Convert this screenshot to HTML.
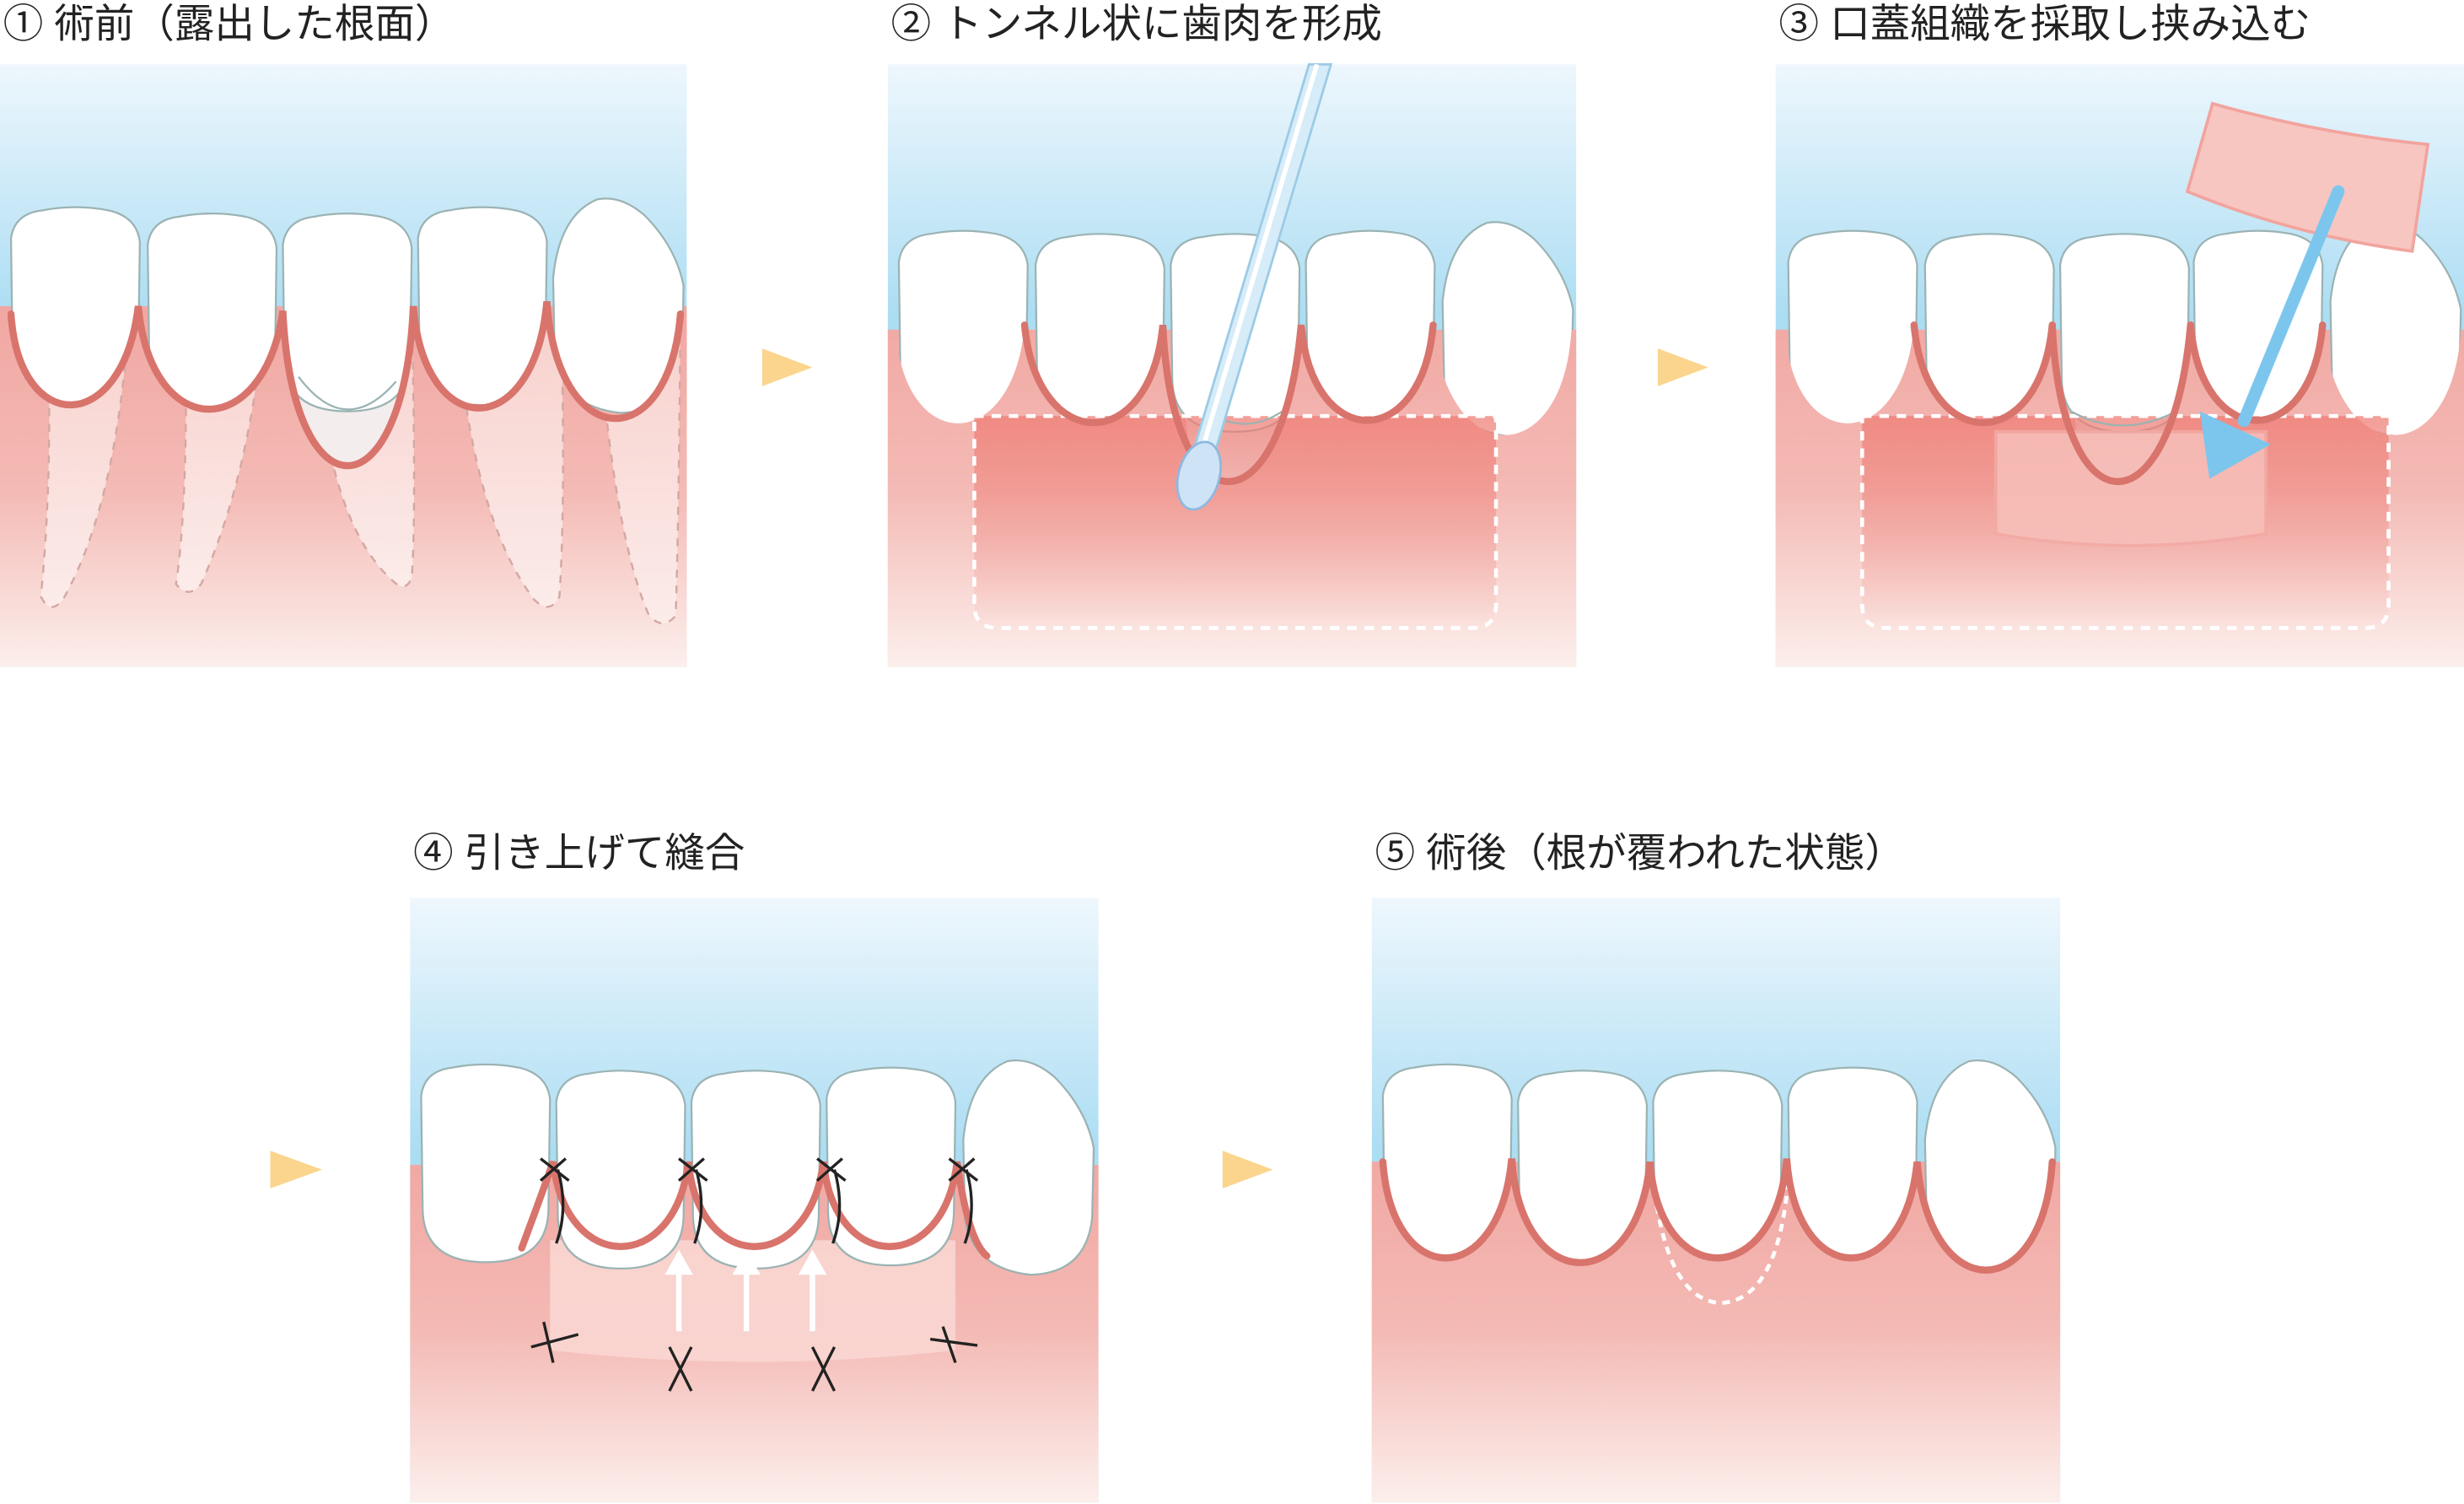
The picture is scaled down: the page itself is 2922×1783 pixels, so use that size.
<!DOCTYPE html>
<html><head><meta charset="utf-8"><style>
html,body{margin:0;padding:0;background:#fff;}
svg{display:block;}
text{font-family:"Liberation Sans","Noto Sans CJK JP",sans-serif;font-size:25.5px;fill:#222;}
</style></head><body>
<svg width="2922" height="1783" viewBox="0 0 1568 958" preserveAspectRatio="none" xmlns="http://www.w3.org/2000/svg">
<defs>
<linearGradient id="sky" x1="0" y1="0" x2="0" y2="1"><stop offset="0" stop-color="#eef7fd"/><stop offset="0.42" stop-color="#abddf3"/><stop offset="1" stop-color="#a8dcf3"/></linearGradient>
<linearGradient id="gum2" gradientUnits="userSpaceOnUse" x1="0" y1="200" x2="0" y2="425"><stop offset="0" stop-color="#f1a8a3"/><stop offset="0.5" stop-color="#f4bab5"/><stop offset="1" stop-color="#fcefec"/></linearGradient>
<linearGradient id="gum5" gradientUnits="userSpaceOnUse" x1="0" y1="740" x2="0" y2="957"><stop offset="0" stop-color="#f1a8a3"/><stop offset="0.5" stop-color="#f4bab5"/><stop offset="1" stop-color="#fcefec"/></linearGradient>
<linearGradient id="deep" x1="0" y1="0" x2="0" y2="1"><stop offset="0" stop-color="#ee7d75" stop-opacity="0.75"/><stop offset="1" stop-color="#ee7d75" stop-opacity="0"/></linearGradient>
<linearGradient id="root" x1="0" y1="0" x2="0" y2="1"><stop offset="0" stop-color="#f8d0cc"/><stop offset="1" stop-color="#fbecea"/></linearGradient>
<path id="tooth" d="M2,22 Q4,6 22,4 Q43,0 64,4 Q82,8 84,24 L83,95 Q82,128 43,128 Q4,128 3,95 Z" fill="#fff" stroke="#9bb3b3" stroke-width="1.2"/>
<path id="canine" d="M2,50 Q6,10 30,0 Q45,-3 60,10 Q80,30 85,55 L84,100 Q80,135 45,136 Q8,132 3,100 Z" fill="#fff" stroke="#9bb3b3" stroke-width="1.2"/>
<clipPath id="c1"><path d="M0,200 L7,200 C12,278 78,278 88,195 C96,282 168,282 180,198 C186,330 257,330 263,195 C270,282 340,282 348,192 C355,290 426,290 433,200 L437,200 L437,425 L0,425 Z"/></clipPath>
</defs>

<text x="2" y="24">① 術前（露出した根面）</text>
<text x="567" y="24">② トンネル状に歯肉を形成</text>
<text x="1132" y="24">③ 口蓋組織を採取し挟み込む</text>
<text x="263" y="552">④ 引き上げて縫合</text>
<text x="875" y="552">⑤ 術後（根が覆われた状態）</text>

<polygon points="485,222 517,234 485,246" fill="#fbd58d"/>
<polygon points="1055,222 1087,234 1055,246" fill="#fbd58d"/>
<polygon points="172,733 205,745 172,757" fill="#fbd58d"/>
<polygon points="778,733 810,745 778,757" fill="#fbd58d"/>

<!-- PANEL 1 -->
<rect x="0" y="41" width="437" height="384" fill="url(#sky)"/>
<rect x="0" y="195" width="437" height="230" fill="url(#gum2)"/>
<use href="#tooth" x="5" y="130"/>
<use href="#tooth" x="92" y="134"/>
<path d="M183,220 L190,300 L255,300 L260,220 Z" fill="#f3eded"/>
<use href="#tooth" x="178" y="134"/>
<use href="#tooth" x="264" y="130"/>
<use href="#canine" x="350" y="127"/>
<path d="M0,200 L7,200 C12,278 78,278 88,195 C96,282 168,282 180,198 C186,330 257,330 263,195 C270,282 340,282 348,192 C355,290 426,290 433,200 L437,200 L437,425 L0,425 Z" fill="url(#gum2)"/>
<g clip-path="url(#c1)" fill="url(#root)" stroke="#d4a8a2" stroke-width="1.3" stroke-dasharray="5,5">
<path d="M30,200 Q34,300 26,380 Q32,392 40,382 Q75,320 82,200 Z"/>
<path d="M118,200 Q120,320 112,372 Q120,382 128,372 Q160,300 168,200 Z"/>
<path d="M200,200 Q205,330 250,370 Q258,378 262,368 Q265,330 262,200 Z"/>
<path d="M290,200 Q300,330 340,382 Q350,392 356,380 Q360,320 357,200 Z"/>
<path d="M380,200 Q390,340 413,392 Q422,402 430,392 Q432,330 433,200 Z"/>
</g>
<path d="M190,240 Q220,280 252,243" fill="none" stroke="#9bb3b3" stroke-width="1.2"/>
<path d="M7,200 C12,278 78,278 88,195 C96,282 168,282 180,198 C186,330 257,330 263,195 C270,282 340,282 348,192 C355,290 426,290 433,200" fill="none" stroke="#d8746c" stroke-width="4.5" stroke-linecap="round"/>

<!-- PANEL 2 -->
<rect x="565" y="41" width="438" height="384" fill="url(#sky)"/>
<rect x="565" y="210" width="438" height="215" fill="url(#gum2)"/>
<use href="#tooth" x="570" y="145"/>
<use href="#tooth" x="657" y="147"/>
<path d="M750,230 L760,312 L815,312 L825,230 Z" fill="#f3eded"/>
<use href="#tooth" x="743" y="147"/>
<use href="#tooth" x="829" y="145"/>
<use href="#canine" x="916" y="142"/>
<path d="M565,210 L570,210 C575,290 645,290 652,207 C660,290 732,290 740,207 C746,340 816,340 828,207 C835,288 905,288 912,207 C920,300 995,300 1000,210 L1003,210 L1003,425 L565,425 Z" fill="url(#gum2)"/>
<path d="M620,265 L952,265 L952,385 Q952,400 937,400 L635,400 Q620,400 620,385 Z" fill="url(#deep)" stroke="#fff" stroke-width="2.5" stroke-dasharray="6,5"/>
<path d="M768,262 Q792,278 816,262" fill="none" stroke="#9bb3b3" stroke-width="1.2"/>
<path d="M652,207 C660,290 732,290 740,207 C746,340 816,340 828,207 C835,288 905,288 912,207" fill="none" stroke="#d8746c" stroke-width="4.5" stroke-linecap="round"/>
<path d="M833,41 L847,41 L772,292 L758,292 Z" fill="#d6ecf8" stroke="#9ccbe6" stroke-width="1.5"/>
<line x1="838" y1="41" x2="764" y2="290" stroke="#fff" stroke-width="3"/>
<ellipse cx="763" cy="303" rx="13" ry="22" transform="rotate(15 763 303)" fill="#cfe3f6" stroke="#8fb8e0" stroke-width="1.5"/>

<!-- PANEL 3 -->
<rect x="1130" y="41" width="438" height="384" fill="url(#sky)"/>
<rect x="1130" y="210" width="438" height="215" fill="url(#gum2)"/>
<use href="#tooth" x="1136" y="145"/>
<use href="#tooth" x="1223" y="147"/>
<path d="M1316,230 L1326,312 L1381,312 L1391,230 Z" fill="#f3eded"/>
<use href="#tooth" x="1309" y="147"/>
<use href="#tooth" x="1394" y="145"/>
<use href="#canine" x="1481" y="142"/>
<path d="M1130,210 L1136,210 C1141,290 1211,290 1218,207 C1226,290 1298,290 1306,207 C1312,340 1382,340 1394,207 C1401,288 1471,288 1478,207 C1486,300 1561,300 1566,210 L1568,210 L1568,425 L1130,425 Z" fill="url(#gum2)"/>
<path d="M1185,265 L1520,265 L1520,385 Q1520,400 1505,400 L1200,400 Q1185,400 1185,385 Z" fill="url(#deep)" stroke="#fff" stroke-width="2.5" stroke-dasharray="6,5"/>
<path d="M1218,207 C1226,290 1298,290 1306,207 M1394,207 C1401,288 1471,288 1478,207" fill="none" stroke="#d8746c" stroke-width="4.5" stroke-linecap="round"/>
<path d="M1318,262 Q1350,280 1385,262" fill="none" stroke="#9bb3b3" stroke-width="1.2"/>
<path d="M1270,275 L1442,275 L1442,340 Q1355,355 1270,340 Z" fill="#f7c0ba" opacity="0.85" stroke="#f3aaa4" stroke-width="2"/>
<path d="M1306,207 C1312,340 1382,340 1394,207" fill="none" stroke="#d8746c" stroke-width="4.5" stroke-linecap="round"/>
<path d="M1408,66 Q1475,85 1545,92 L1535,160 Q1460,150 1392,122 Z" fill="#f8c6c1" stroke="#f2a49e" stroke-width="2"/>
<line x1="1488" y1="122" x2="1428" y2="268" stroke="#7cc6ee" stroke-width="8" stroke-linecap="round"/>
<polygon points="1400,262 1445,283 1406,305" fill="#7cc6ee"/>

<!-- PANEL 4 -->
<rect x="261" y="572" width="438" height="385" fill="url(#sky)"/>
<rect x="261" y="742" width="438" height="215" fill="url(#gum5)"/>
<path d="M350,790 L608,790 L608,860 Q480,875 350,860 Z" fill="#f9d6d2" opacity="0.9"/>
<use href="#tooth" x="266" y="676"/>
<use href="#tooth" x="352" y="680"/>
<use href="#tooth" x="438" y="680"/>
<use href="#tooth" x="524" y="678"/>
<use href="#canine" x="611" y="676"/>
<path d="M332,795 Q345,760 352,740 C360,812 430,812 438,740 C445,812 515,812 524,740 C531,812 601,812 609,740 Q616,790 628,800" fill="none" stroke="#d8746c" stroke-width="4.5" stroke-linecap="round"/>
<g stroke="#222" stroke-width="1.8" fill="none">
<path d="M344,738 L362,752 M344,752 L360,738 M355,745 Q362,770 354,792"/>
<path d="M432,738 L450,752 M432,752 L448,738 M443,745 Q450,770 442,792"/>
<path d="M520,738 L538,752 M520,752 L536,738 M531,745 Q538,770 530,792"/>
<path d="M604,738 L622,752 M604,752 L620,738 M615,745 Q622,770 614,792"/>
<path d="M338,858 L368,850 M346,842 L352,868"/>
<path d="M592,853 L622,857 M600,845 L608,868"/>
<path d="M426,858 L440,886 M440,858 L426,886"/>
<path d="M517,858 L531,886 M531,858 L517,886"/>
</g>
<g fill="#fff" stroke="#fff">
<line x1="432" y1="848" x2="432" y2="810" stroke-width="3.5"/><polygon points="423,812 432,796 441,812" stroke="none"/>
<line x1="475" y1="848" x2="475" y2="810" stroke-width="3.5"/><polygon points="466,812 475,796 484,812" stroke="none"/>
<line x1="517" y1="848" x2="517" y2="810" stroke-width="3.5"/><polygon points="508,812 517,796 526,812" stroke="none"/>
</g>

<!-- PANEL 5 -->
<rect x="873" y="572" width="438" height="385" fill="url(#sky)"/>
<rect x="873" y="740" width="438" height="217" fill="url(#gum5)"/>
<use href="#tooth" x="878" y="676"/>
<use href="#tooth" x="964" y="680"/>
<use href="#tooth" x="1050" y="680"/>
<use href="#tooth" x="1136" y="678"/>
<use href="#canine" x="1223" y="676"/>
<path d="M873,740 L880,740 C886,822 954,822 962,738 C968,826 1042,826 1050,740 C1056,822 1130,822 1137,738 C1143,822 1212,822 1220,740 C1228,832 1300,832 1306,740 L1311,740 L1311,957 L873,957 Z" fill="url(#gum5)"/>
<path d="M1052,750 Q1060,828 1095,830 Q1132,828 1138,750" fill="none" stroke="#fff" stroke-width="2.5" stroke-dasharray="5,4"/>
<path d="M880,740 C886,822 954,822 962,738 C968,826 1042,826 1050,740 C1056,822 1130,822 1137,738 C1143,822 1212,822 1220,740 C1228,832 1300,832 1306,740" fill="none" stroke="#d8746c" stroke-width="4.5" stroke-linecap="round"/>
</svg>
</body></html>
